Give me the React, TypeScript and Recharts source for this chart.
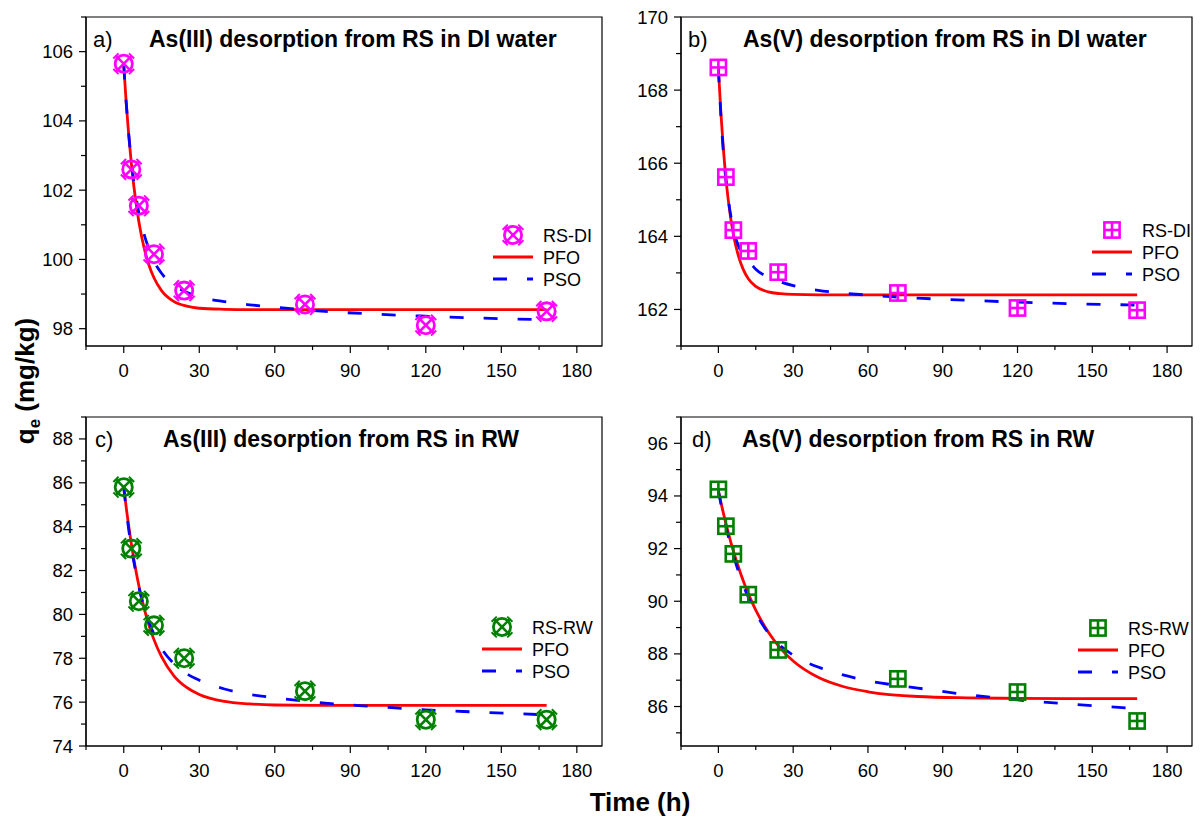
import React from 'react';
import { ComposedChart, Line, Scatter, XAxis, YAxis, ReferenceArea } from 'recharts';

const FONT = '"Liberation Sans", Arial, Helvetica, sans-serif';

// ---- data ----
const sampleTimes = [0, 3, 6, 12, 24, 72, 120, 168];
const rsDiAs3 = [105.65, 102.6, 101.55, 100.15, 99.1, 98.7, 98.1, 98.5];
const rsDiAs5 = [168.62, 165.62, 164.17, 163.6, 163.02, 162.45, 162.04, 161.98];
const rsRwAs3 = [85.8, 83.0, 80.6, 79.5, 78.0, 76.5, 75.2, 75.2];
const rsRwAs5 = [94.25, 92.85, 91.8, 90.25, 88.15, 87.05, 86.55, 85.45];

const fitTimes = [0, 1, 2, 3, 4, 6, 8, 10, 12, 15, 20, 25, 30, 40, 50, 60, 80, 100, 120, 140, 168];
const pfoA = [105.6, 104.5, 103.57, 102.78, 102.12, 101.09, 100.36, 99.84, 99.47, 99.1, 98.78, 98.65, 98.59, 98.56, 98.55, 98.55, 98.55, 98.55, 98.55, 98.55, 98.55];
const psoA = [105.6, 104.5, 103.6, 102.85, 102.25, 101.35, 100.75, 100.3, 99.95, 99.6, 99.25, 99.05, 98.92, 98.78, 98.69, 98.62, 98.5, 98.42, 98.36, 98.31, 98.26];
const pfoB = [168.6, 167.38, 166.39, 165.6, 164.97, 164.06, 163.47, 163.09, 162.84, 162.63, 162.48, 162.43, 162.41, 162.4, 162.4, 162.4, 162.4, 162.4, 162.4, 162.4, 162.4];
const psoB = [168.6, 167.3, 166.3, 165.55, 165.0, 164.2, 163.75, 163.5, 163.35, 163.1, 162.88, 162.75, 162.65, 162.52, 162.45, 162.39, 162.31, 162.25, 162.2, 162.16, 162.12];
const pfoC = [85.8, 84.85, 84.0, 83.22, 82.52, 81.31, 80.32, 79.51, 78.85, 78.07, 77.19, 76.67, 76.35, 76.03, 75.92, 75.87, 75.85, 75.85, 75.85, 75.85, 75.85];
const psoC = [85.8, 84.75, 83.85, 83.05, 82.4, 81.25, 80.35, 79.65, 79.1, 78.45, 77.75, 77.3, 77.0, 76.6, 76.35, 76.2, 75.95, 75.8, 75.65, 75.55, 75.42];
const pfoD = [94.2, 93.76, 93.35, 92.96, 92.59, 91.91, 91.31, 90.77, 90.29, 89.66, 88.83, 88.2, 87.73, 87.11, 86.76, 86.56, 86.38, 86.33, 86.31, 86.3, 86.3];
const psoD = [94.2, 93.7, 93.25, 92.85, 92.45, 91.75, 91.15, 90.6, 90.15, 89.55, 88.8, 88.3, 87.95, 87.5, 87.2, 86.98, 86.7, 86.45, 86.25, 86.1, 85.92];

const xMajorTicks = [0, 30, 60, 90, 120, 150, 180];
const xMinorTicks = [-15, 15, 45, 75, 105, 135, 165];
const xDomain: [number, number] = [-15, 190];

const yMajorA = [98, 100, 102, 104, 106];
const yMinorA = [99, 101, 103, 105, 107];
const yMajorB = [162, 164, 166, 168, 170];
const yMinorB = [161, 163, 165, 167, 169];
const yMajorC = [74, 76, 78, 80, 82, 84, 86, 88];
const yMinorC = [75, 77, 79, 81, 83, 85, 87, 89];
const yMajorD = [86, 88, 90, 92, 94, 96];
const yMinorD = [85, 87, 89, 91, 93, 95, 97];

const panelLetters = ['a)', 'b)', 'c)', 'd)'];
const panelTitles = [
  'As(III) desorption from RS in DI water',
  'As(V) desorption from RS in DI water',
  'As(III) desorption from RS in RW',
  'As(V) desorption from RS in RW',
];
const seriesNames = ['RS-DI', 'RS-DI', 'RS-RW', 'RS-RW'];
const fitNames = ['PFO', 'PSO'];

const MAGENTA = '#FF00FF';
const GREEN = '#008000';
const RED = '#FF0000';
const BLUE = '#0000FF';
const DASH = '14 20';

const pointsOf = (vals: number[]) => sampleTimes.map((t, i) => ({ t, q: vals[i] }));
const fitOf = (vals: number[]) => fitTimes.map((t, i) => ({ t, q: vals[i] }));

// ---- markers ----
const CircleX = ({ cx, cy, color }: any) => {
  const d = 7.8;
  const c = 2.6;
  return (
    <g>
      <circle cx={cx} cy={cy} r={8.6} fill="none" stroke={color} strokeWidth={2.8} />
      <line x1={cx - d} y1={cy - d} x2={cx + d} y2={cy + d} stroke={color} strokeWidth={2.6} />
      <line x1={cx - d} y1={cy + d} x2={cx + d} y2={cy - d} stroke={color} strokeWidth={2.6} />
      {[[-1, -1], [1, 1], [-1, 1], [1, -1]].map(([sx, sy], i) => (
        <line key={i} x1={cx + sx * d + c * sy} y1={cy + sy * d - c * sx} x2={cx + sx * d - c * sy} y2={cy + sy * d + c * sx}
          stroke={color} strokeWidth={2} />
      ))}
    </g>
  );
};

const SquarePlus = ({ cx, cy, color }: any) => {
  const h = 7.6;
  return (
    <g>
      <rect x={cx - h} y={cy - h} width={2 * h} height={2 * h} fill="none" stroke={color} strokeWidth={2.6} />
      <line x1={cx - h} y1={cy} x2={cx + h} y2={cy} stroke={color} strokeWidth={2.6} />
      <line x1={cx} y1={cy - h} x2={cx} y2={cy + h} stroke={color} strokeWidth={2.6} />
    </g>
  );
};

// ---- ticks ----
const TICK_FS = 18.5;
const makeXTick = (majors: number[]) => (props: any) => {
  const { x, y, payload } = props;
  const v = payload.value;
  const major = majors.includes(v);
  return (
    <g>
      <line x1={x} x2={x} y1={y} y2={y + (major ? 7 : 4)} stroke="#000" strokeWidth={1.2} />
      {major && (
        <text x={x} y={y + 31} textAnchor="middle" fontSize={TICK_FS} fontFamily={FONT} fill="#000">{v}</text>
      )}
    </g>
  );
};

const makeYTick = (majors: number[]) => (props: any) => {
  const { x, y, payload } = props;
  const v = payload.value;
  const major = majors.includes(v);
  return (
    <g>
      <line x1={x - (major ? 7 : 5)} x2={x} y1={y} y2={y} stroke="#000" strokeWidth={1.2} />
      {major && (
        <text x={x - 13} y={y + 6.5} textAnchor="end" fontSize={TICK_FS} fontFamily={FONT} fill="#000">{v}</text>
      )}
    </g>
  );
};

const YAXIS_W = 60;
const M_TOP = 10;
const M_RIGHT = 12;
const XAXIS_H = 40;
const PLOT_H = 329;

type PanelProps = {
  plotLeft: number;
  plotTop: number;
  plotW: number;
  yDomain: [number, number];
  yMajor: number[];
  yMinor: number[];
  pts: number[];
  pfo: number[];
  pso: number[];
  color: string;
  square: boolean;
};

function Panel(p: PanelProps) {
  const xTicks = [...xMinorTicks, ...xMajorTicks].sort((a, b) => a - b);
  const yTicks = [...p.yMinor, ...p.yMajor].sort((a, b) => a - b);
  const Marker = p.square ? SquarePlus : CircleX;
  return (
    <div style={{ position: 'absolute', left: p.plotLeft - YAXIS_W, top: p.plotTop - M_TOP }}>
      <ComposedChart
        width={YAXIS_W + p.plotW + M_RIGHT}
        height={M_TOP + PLOT_H + XAXIS_H}
        margin={{ top: M_TOP, right: M_RIGHT, left: 0, bottom: 0 }}
        style={{ overflow: 'visible' }}
      >
        <XAxis
          type="number"
          dataKey="t"
          domain={xDomain}
          ticks={xTicks}
          interval={0}
          allowDataOverflow
          height={XAXIS_H}
          tickLine={false}
          tickSize={0}
          tickMargin={0}
          axisLine={{ stroke: '#000', strokeWidth: 1.2 }}
          tick={makeXTick(xMajorTicks)}
        />
        <YAxis
          type="number"
          domain={p.yDomain}
          ticks={yTicks}
          interval={0}
          allowDataOverflow
          width={YAXIS_W}
          tickLine={false}
          tickSize={0}
          tickMargin={0}
          axisLine={{ stroke: '#000', strokeWidth: 1.2 }}
          tick={makeYTick(p.yMajor)}
        />
        <ReferenceArea
          x1={xDomain[0]}
          x2={xDomain[1]}
          y1={p.yDomain[0]}
          y2={p.yDomain[1]}
          fill="none"
          fillOpacity={0}
          stroke="#000"
          strokeWidth={1.2}
          ifOverflow="visible"
        />
        <Scatter
          data={pointsOf(p.pts)}
          dataKey="q"
          isAnimationActive={false}
          shape={(s: any) => <Marker cx={s.cx} cy={s.cy} color={p.color} />}
        />
        <Line
          data={fitOf(p.pfo)}
          dataKey="q"
          type="monotone"
          stroke={RED}
          strokeWidth={2.8}
          dot={false}
          activeDot={false}
          isAnimationActive={false}
        />
        <Line
          data={fitOf(p.pso)}
          dataKey="q"
          type="monotone"
          stroke={BLUE}
          strokeWidth={2.8}
          strokeDasharray={DASH}
          dot={false}
          activeDot={false}
          isAnimationActive={false}
        />
      </ComposedChart>
    </div>
  );
}

function LegendBox({ x, y, name, color, square }: { x: number; y: number; name: string; color: string; square: boolean }) {
  const Marker = square ? SquarePlus : CircleX;
  return (
    <g>
      <Marker cx={x + 20} cy={y} color={color} />
      <text x={x + 50} y={y + 6.5} fontSize={18} fontFamily={FONT} fill="#000">{name}</text>
      <line x1={x} x2={x + 40} y1={y + 22} y2={y + 22} stroke={RED} strokeWidth={2.8} />
      <text x={x + 50} y={y + 28.5} fontSize={18} fontFamily={FONT} fill="#000">{fitNames[0]}</text>
      <line x1={x} x2={x + 40} y1={y + 44} y2={y + 44} stroke={BLUE} strokeWidth={2.8} strokeDasharray={DASH} />
      <text x={x + 50} y={y + 50.5} fontSize={18} fontFamily={FONT} fill="#000">{fitNames[1]}</text>
    </g>
  );
}

export default function App() {
  const panels: PanelProps[] = [
    { plotLeft: 86, plotTop: 17, plotW: 516, yDomain: [97.5, 107], yMajor: yMajorA, yMinor: yMinorA, pts: rsDiAs3, pfo: pfoA, pso: psoA, color: MAGENTA, square: false },
    { plotLeft: 681, plotTop: 17, plotW: 511, yDomain: [161, 170], yMajor: yMajorB, yMinor: yMinorB, pts: rsDiAs5, pfo: pfoB, pso: psoB, color: MAGENTA, square: true },
    { plotLeft: 86, plotTop: 417, plotW: 516, yDomain: [74, 89], yMajor: yMajorC, yMinor: yMinorC, pts: rsRwAs3, pfo: pfoC, pso: psoC, color: GREEN, square: false },
    { plotLeft: 681, plotTop: 417, plotW: 511, yDomain: [84.5, 97], yMajor: yMajorD, yMinor: yMinorD, pts: rsRwAs5, pfo: pfoD, pso: psoD, color: GREEN, square: true },
  ];
  const letterPos = [
    { lx: 93, tx: 149, y: 47 },
    { lx: 688, tx: 743, y: 47 },
    { lx: 95, tx: 163, y: 447 },
    { lx: 692, tx: 742, y: 447 },
  ];
  const legendPos = [
    { x: 493, y: 235 },
    { x: 1092, y: 230 },
    { x: 482, y: 627 },
    { x: 1078, y: 628 },
  ];
  return (
    <div style={{ position: 'absolute', left: 0, top: 0, width: 1201, height: 818, background: '#fff', fontFamily: FONT }}>
      {panels.map((p, i) => (
        <Panel key={i} {...p} />
      ))}
      <svg width={1201} height={818} style={{ position: 'absolute', left: 0, top: 0, pointerEvents: 'none' }}>
        {letterPos.map((lp, i) => (
          <g key={i}>
            <text x={lp.lx} y={lp.y} fontSize={22} fontFamily={FONT} fill="#000">{panelLetters[i]}</text>
            <text x={lp.tx} y={lp.y} fontSize={23} fontWeight="bold" fontFamily={FONT} fill="#000">{panelTitles[i]}</text>
          </g>
        ))}
        {legendPos.map((lg, i) => (
          <LegendBox key={i} x={lg.x} y={lg.y} name={seriesNames[i]} color={panels[i].color} square={panels[i].square} />
        ))}
        <text x={640} y={811} textAnchor="middle" fontSize={26} fontWeight="bold" fontFamily={FONT} fill="#000">Time (h)</text>
        <text transform="translate(34, 381) rotate(-90)" textAnchor="middle" fontSize={26} fontWeight="bold" fontFamily={FONT} fill="#000">
          q<tspan fontSize={17} dy={6}>e</tspan><tspan dy={-6}> (mg/kg)</tspan>
        </text>
      </svg>
    </div>
  );
}
